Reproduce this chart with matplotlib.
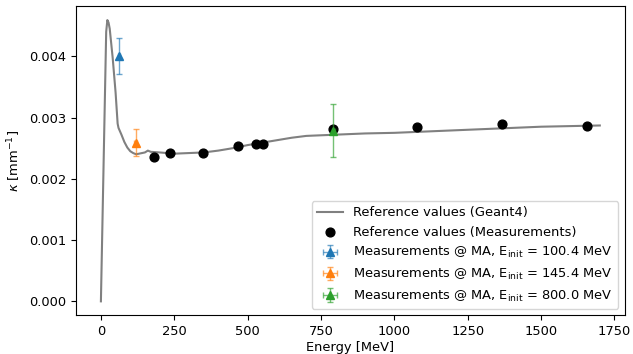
import matplotlib
matplotlib.use("Agg")
import matplotlib.pyplot as plt
from matplotlib.colors import to_rgba

plt.rcParams['font.size'] = 9.4

# Geant4 reference curve
geant_E = [0, 10, 18, 22, 26, 30, 40, 50, 57, 60, 70, 80, 90, 100, 110, 120, 130,
           150, 160, 170, 200, 250, 300, 350, 400, 450, 500, 550, 600, 650, 700,
           800, 900, 1000, 1100, 1200, 1300, 1400, 1500, 1600, 1700]
geant_k = [0.0, 0.00245, 0.0044, 0.00459, 0.00455, 0.00445, 0.00398, 0.00341, 0.00290,
           0.00283, 0.00272, 0.00260, 0.00251, 0.00245, 0.00242, 0.00240, 0.00241,
           0.00243, 0.00246, 0.00244, 0.00243, 0.00241, 0.00242, 0.00243, 0.00246,
           0.00250, 0.00255, 0.00259, 0.00263, 0.00267, 0.00270, 0.00272, 0.00274,
           0.00275, 0.00277, 0.00279, 0.00281, 0.00283, 0.00285, 0.00286, 0.00287]

# Reference measurements
meas_E = [180, 234, 348, 467, 527, 553, 792, 1076, 1367, 1658]
meas_k = [0.00235, 0.00242, 0.00242, 0.00254, 0.002565, 0.002565, 0.00281, 0.00285, 0.00290, 0.002865]

# MA measurements
ma_labels = ["100.4", "145.4", "800.0"]
ma_E = [61, 118, 792]
ma_k = [0.00400, 0.00259, 0.002785]
ma_kerr = [0.00029, 0.00022, 0.00043]
ma_Eerr = [4, 4, 4]
ma_colors = ["C0", "C1", "C2"]

fig = plt.figure(figsize=(6.33, 3.54), dpi=100)
ax = fig.add_axes([0.120, 0.109, 0.867, 0.874])

ax.plot(geant_E, geant_k, color="gray", lw=1.5, label="Reference values (Geant4)")
ax.scatter(meas_E, meas_k, color="black", s=40, zorder=3,
           label="Reference values (Measurements)")
for lab, e, k, ke, ee, c in zip(ma_labels, ma_E, ma_k, ma_kerr, ma_Eerr, ma_colors):
    ax.errorbar([e], [k], yerr=[ke], xerr=[ee], fmt="^", color=c, ms=6,
                ecolor=to_rgba(c, 0.65), elinewidth=1, capsize=2, zorder=4,
                label=r"Measurements @ MA, E$_\mathrm{init}$ = " + lab + " MeV")

ax.set_xlabel("Energy [MeV]", labelpad=2)
ax.set_ylabel(r"$\kappa$ [mm$^{-1}$]")
ax.set_xticks([0, 250, 500, 750, 1000, 1250, 1500, 1750])
ax.set_yticks([0.0, 0.001, 0.002, 0.003, 0.004])
ax.set_yticklabels(["0.000", "0.001", "0.002", "0.003", "0.004"])
ax.legend(loc="lower right")

fig.savefig("out.png", dpi=100)
